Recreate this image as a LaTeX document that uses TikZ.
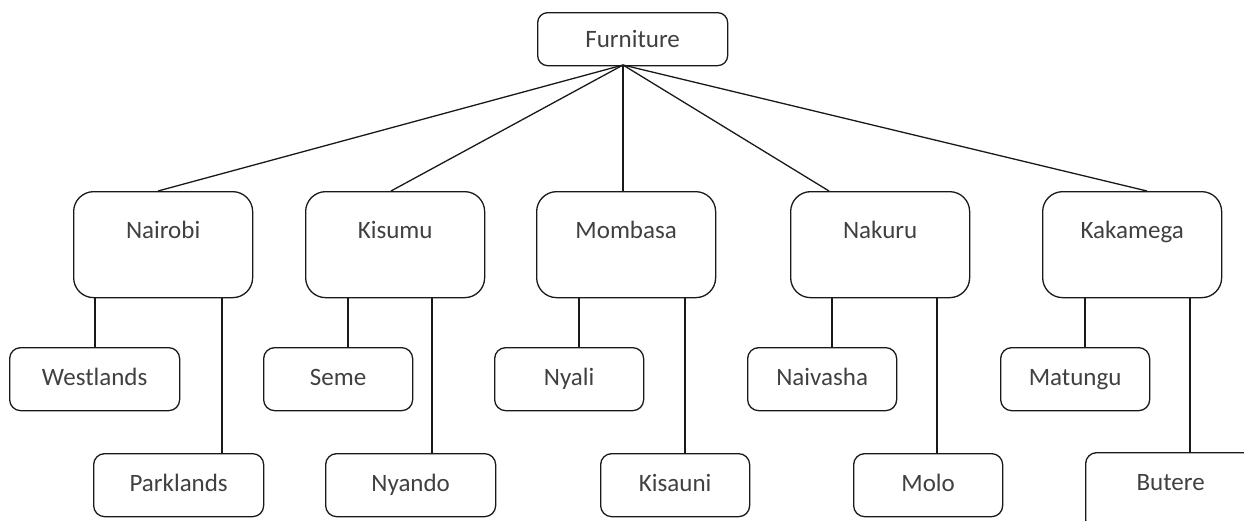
\documentclass[tikz,border=0pt]{standalone}
\usepackage{fontspec}
\setmainfont{Carlito}
\usepackage{tikz}
\usetikzlibrary{calc}

\begin{document}
\begin{tikzpicture}[
  x=1pt,y=-1pt,
  link/.style={line width=1.3pt,draw=black!90},
  root/.style={draw=black!90,line width=1.3pt,rounded corners=10pt,
    anchor=north west,inner sep=0pt,minimum width=190pt,
    text height=35pt,text depth=18pt},
  city/.style={draw=black!90,line width=1.3pt,rounded corners=20pt,
    anchor=north west,inner sep=0pt,minimum width=179pt,
    text height=47pt,text depth=59pt},
  town/.style={draw=black!90,line width=1.3pt,rounded corners=11pt,
    anchor=north west,inner sep=0pt,minimum width=149pt,
    text height=38pt,text depth=25pt},
  wide/.style={minimum width=170pt},
  every node/.style={font=\fontsize{25}{30}\selectfont,text=black!75}
]
  \useasboundingbox (0,0) rectangle (1244,520);
  \clip (0,0) rectangle (1244,520);

  % top of the tree
  \node[root] (furniture) at (537,12) {Furniture};
  \coordinate (hub) at (623,65);

  % branches
  \node[city] (nairobi) at (73,191) {Nairobi};
  \node[city] (kisumu) at (305,191) {Kisumu};
  \node[city] (mombasa) at (536,191) {Mombasa};
  \node[city] (nakuru) at (790,191) {Nakuru};
  \node[city] (kakamega) at (1042,191) {Kakamega};

  % outlets, upper row
  \node[town,wide] (westlands) at (9,347) {Westlands};
  \node[town] (seme) at (263,347) {Seme};
  \node[town] (nyali) at (494,347) {Nyali};
  \node[town] (naivasha) at (747,347) {Naivasha};
  \node[town] (matungu) at (1000,347) {Matungu};

  % outlets, lower row
  \node[town,wide] (parklands) at (93,453) {Parklands};
  \node[town,wide] (nyando) at (325,453) {Nyando};
  \node[town] (kisauni) at (600,453) {Kisauni};
  \node[town] (molo) at (853,453) {Molo};
  \node[town,wide,text depth=40pt] (butere) at (1085,452) {Butere};

  \draw[link] (hub) -- ($(nairobi.north west)+(85,0)$);
  \draw[link] (hub) -- ($(kisumu.north west)+(86,0)$);
  \draw[link] (hub) -- ($(mombasa.north west)+(87,0)$);
  \draw[link] (hub) -- ($(nakuru.north west)+(39,0)$);
  \draw[link] (hub) -- ($(kakamega.north west)+(105,0)$);

  \draw[link] ($(nairobi.south west)+(22,0)$) coordinate (n1) -- (n1 |- westlands.north);
  \draw[link] ($(nairobi.south west)+(149,0)$) coordinate (n2) -- (n2 |- parklands.north);
  \draw[link] ($(kisumu.south west)+(43,0)$) coordinate (k1) -- (k1 |- seme.north);
  \draw[link] ($(kisumu.south west)+(127,0)$) coordinate (k2) -- (k2 |- nyando.north);
  \draw[link] ($(mombasa.south west)+(43,0)$) coordinate (m1) -- (m1 |- nyali.north);
  \draw[link] ($(mombasa.south west)+(149,0)$) coordinate (m2) -- (m2 |- kisauni.north);
  \draw[link] ($(nakuru.south west)+(42,0)$) coordinate (r1) -- (r1 |- naivasha.north);
  \draw[link] ($(nakuru.south west)+(147,0)$) coordinate (r2) -- (r2 |- molo.north);
  \draw[link] ($(kakamega.south west)+(43,0)$) coordinate (g1) -- (g1 |- matungu.north);
  \draw[link] ($(kakamega.south west)+(148,0)$) coordinate (g2) -- (g2 |- butere.north);
\end{tikzpicture}
\end{document}
